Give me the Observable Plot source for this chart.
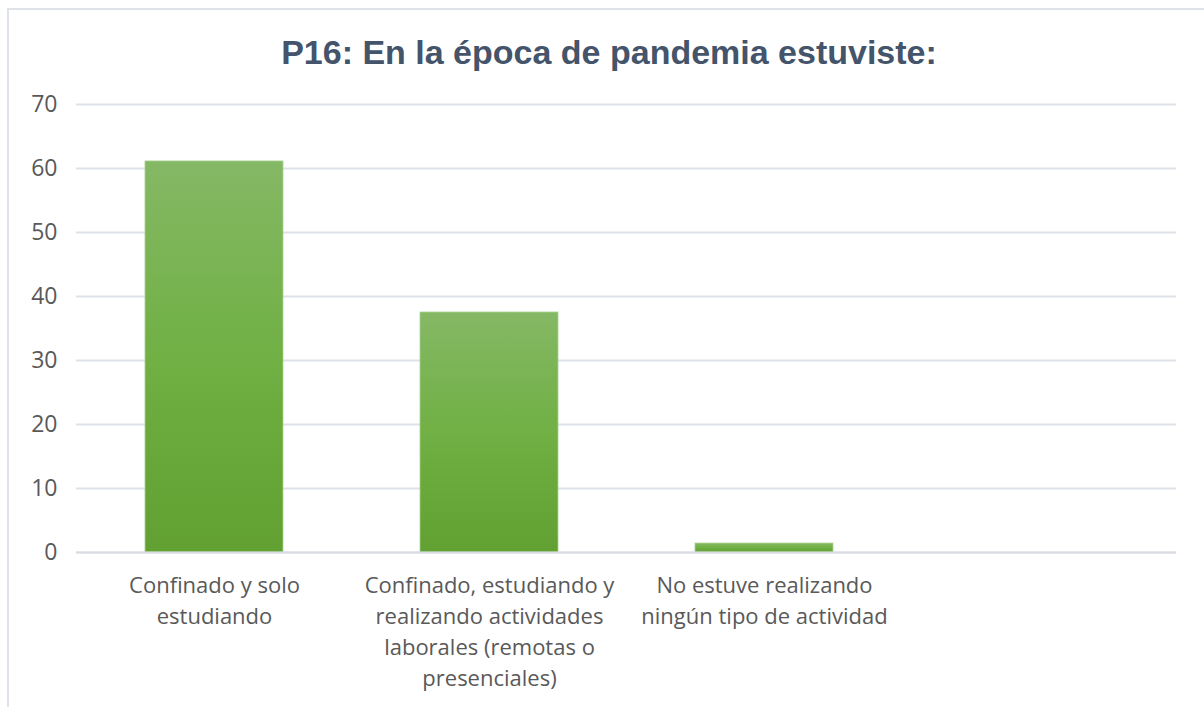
<!DOCTYPE html>
<html>
<head>
<meta charset="utf-8">
<script src="https://cdn.jsdelivr.net/npm/d3@7"></script>
<script src="https://cdn.jsdelivr.net/npm/@observablehq/plot@0.6"></script>
<style>
  html, body { margin: 0; padding: 0; background: #fff; }
  #wrap { position: relative; width: 1204px; height: 707px; overflow: hidden; }
  #frame { position: absolute; left: 7px; top: 8px; width: 1300px; height: 800px;
           border-left: 2px solid #dfe2e8; border-top: 2px solid #dfe2e8; box-sizing: border-box; }
  #title { position: absolute; left: 0; top: 0; width: 1218px; height: 85px; text-align: center;
           font-family: "Liberation Sans", Arial, sans-serif; font-weight: bold; font-size: 34px;
           color: #44546a; line-height: 104px; }
  #chart { position: absolute; left: 0; top: 85px; }
</style>
</head>
<body>
<div id="wrap">
  <div id="frame"></div>
  <div id="title">P16: En la época de pandemia estuviste:</div>
  <div id="chart"></div>
</div>
<script>
const categories = [
  "Confinado y solo estudiando",
  "Confinado, estudiando y realizando actividades laborales (remotas o presenciales)",
  "No estuve realizando ningún tipo de actividad",
  "(vacío)"
];
const tickLabels = [
  "Confinado y solo\nestudiando",
  "Confinado, estudiando y\nrealizando actividades\nlaborales (remotas o\npresenciales)",
  "No estuve realizando\nningún tipo de actividad",
  ""
];
const values = [61.1, 37.5, 1.4];
const yTicks = [0, 10, 20, 30, 40, 50, 60, 70];

const data = values.map((v, i) => ({cat: categories[i], value: v}));
const labelOf = new Map(categories.map((c, i) => [c, tickLabels[i]]));

const plot = Plot.plot({
  width: 1204,
  height: 622,
  marginLeft: 76,
  marginRight: 28,
  marginTop: 19,
  marginBottom: 155,
  style: {fontFamily: "'Open Sans', sans-serif", color: "#595959", background: "transparent"},
  x: {domain: categories, paddingInner: 0.5, paddingOuter: 0.25, align: 0.5},
  y: {domain: [0, 70]},
  marks: [
    Plot.gridY(yTicks, {stroke: "#dde1e8", strokeOpacity: 1, strokeWidth: 2}),
    Plot.axisY(yTicks, {tickSize: 0, tickPadding: 19, fontSize: 23, fill: "#595959", label: null}),
    Plot.axisX({tickSize: 0, tickPadding: 18, fontSize: 22, lineHeight: 1.41, fill: "#595959",
                tickFormat: d => labelOf.get(d), label: null}),
    Plot.barY(data, {x: "cat", y: "value", fill: "url(#barGrad)", stroke: "#a9d18e", strokeWidth: 0.8}),
    Plot.ruleY([0], {stroke: "#d9dce3", strokeWidth: 2})
  ]
});

const defs = d3.select(plot).insert("defs", ":first-child");
const g = defs.append("linearGradient").attr("id", "barGrad")
  .attr("x1", 0).attr("y1", 0).attr("x2", 0).attr("y2", 1);
g.append("stop").attr("offset", "0%").attr("stop-color", "#85b865");
g.append("stop").attr("offset", "50%").attr("stop-color", "#70b044");
g.append("stop").attr("offset", "100%").attr("stop-color", "#61a031");

document.getElementById("chart").appendChild(plot);
</script>
</body>
</html>
